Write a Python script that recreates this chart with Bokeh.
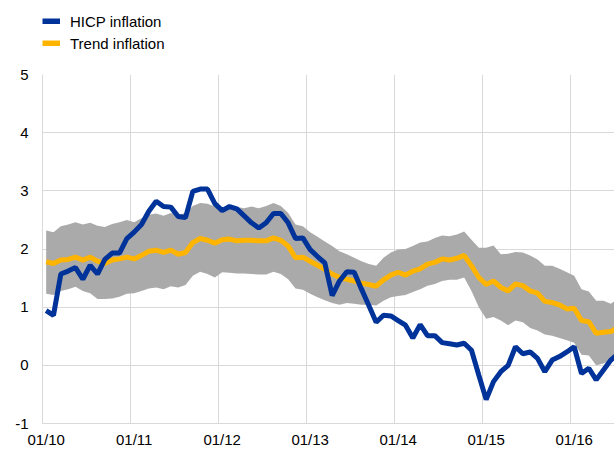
from bokeh.plotting import figure
from bokeh.models import Range1d, FixedTicker, Legend, LegendItem, ColumnDataSource
from bokeh.layouts import column
from bokeh.embed import file_html
from bokeh.resources import INLINE

# month index 0 = Jan 2010
months = list(range(79))

hicp = [0.94, 0.86, 1.57, 1.62, 1.68, 1.48, 1.72, 1.57, 1.82, 1.93, 1.93, 2.18,
        2.29, 2.42, 2.65, 2.82, 2.73, 2.72, 2.56, 2.54, 2.99, 3.03, 3.03, 2.78,
        2.66, 2.73, 2.69, 2.57, 2.45, 2.36, 2.45, 2.61, 2.61, 2.45, 2.18, 2.19,
        1.99, 1.87, 1.76, 1.20, 1.45, 1.61, 1.60, 1.31, 1.03, 0.74, 0.86, 0.85,
        0.77, 0.69, 0.47, 0.70, 0.51, 0.51, 0.39, 0.37, 0.35, 0.38, 0.26, -0.17,
        -0.59, -0.28, -0.11, 0.00, 0.32, 0.20, 0.23, 0.12, -0.11, 0.09, 0.15, 0.23,
        0.32, -0.14, -0.05, -0.25, -0.08, 0.09, 0.20]

trend = [1.78, 1.75, 1.81, 1.82, 1.86, 1.81, 1.86, 1.79, 1.75, 1.81, 1.83, 1.86,
         1.83, 1.89, 1.96, 1.98, 1.94, 1.98, 1.91, 1.94, 2.11, 2.18, 2.15, 2.10,
         2.16, 2.17, 2.14, 2.15, 2.15, 2.14, 2.14, 2.19, 2.15, 2.05, 1.85, 1.86,
         1.79, 1.72, 1.65, 1.57, 1.51, 1.48, 1.45, 1.41, 1.39, 1.36, 1.47, 1.55,
         1.60, 1.55, 1.62, 1.66, 1.74, 1.77, 1.83, 1.81, 1.84, 1.89, 1.71, 1.51,
         1.39, 1.45, 1.34, 1.28, 1.40, 1.37, 1.28, 1.24, 1.10, 1.08, 1.04, 0.97,
         0.98, 0.77, 0.75, 0.55, 0.57, 0.58, 0.66]

band_upper = [2.32, 2.29, 2.39, 2.42, 2.46, 2.42, 2.45, 2.40, 2.38, 2.43, 2.46, 2.50,
              2.46, 2.53, 2.59, 2.61, 2.57, 2.62, 2.59, 2.62, 2.74, 2.79, 2.78, 2.73,
              2.70, 2.73, 2.72, 2.70, 2.73, 2.70, 2.74, 2.79, 2.74, 2.62, 2.42, 2.39,
              2.29, 2.21, 2.13, 2.05, 1.96, 1.91, 1.85, 1.79, 1.74, 1.71, 1.85, 1.94,
              1.99, 2.00, 2.05, 2.11, 2.13, 2.19, 2.23, 2.22, 2.25, 2.30, 2.16, 2.02,
              2.02, 2.06, 1.91, 1.92, 1.95, 1.94, 1.89, 1.82, 1.71, 1.71, 1.66, 1.60,
              1.54, 1.31, 1.27, 1.11, 1.11, 1.06, 1.15]

band_lower = [1.23, 1.21, 1.28, 1.31, 1.35, 1.28, 1.24, 1.14, 1.14, 1.15, 1.18, 1.23,
              1.24, 1.28, 1.32, 1.34, 1.31, 1.36, 1.34, 1.38, 1.54, 1.61, 1.57, 1.51,
              1.60, 1.59, 1.58, 1.58, 1.57, 1.56, 1.56, 1.61, 1.57, 1.48, 1.32, 1.30,
              1.23, 1.17, 1.12, 1.07, 1.04, 1.07, 1.06, 1.04, 1.04, 1.03, 1.11, 1.17,
              1.19, 1.21, 1.26, 1.31, 1.37, 1.40, 1.45, 1.47, 1.47, 1.51, 1.28, 1.00,
              0.80, 0.83, 0.77, 0.69, 0.77, 0.74, 0.64, 0.60, 0.53, 0.51, 0.47, 0.43,
              0.39, 0.18, 0.17, 0.00, 0.03, 0.09, 0.12]

x_tick_pos = [0, 12, 24, 36, 48, 60, 72]
x_tick_labels = ["01/10", "01/11", "01/12", "01/13", "01/14", "01/15", "01/16"]
y_ticks = [-1, 0, 1, 2, 3, 4, 5]
series_names = ["HICP inflation", "Trend inflation"]
series_colors = ["#003399", "#ffb400"]
series_values = [hicp, trend]

FONT = "Liberation Sans"
GRID = "#d9d9d9"
BAND = "#aaaaaa"

# ---- legend strip (above the chart) ----
leg_fig = figure(width=614, height=53, output_backend="svg", toolbar_location=None,
                 x_range=Range1d(0, 1), y_range=Range1d(0, 1),
                 min_border_left=0, min_border_right=0, min_border_top=0,
                 min_border_bottom=0)
leg_fig.axis.visible = False
leg_fig.grid.visible = False
leg_fig.outline_line_color = None
leg_items = []
for name, col, vals in zip(series_names, series_colors, series_values):
    # single-point proxy (draws nothing itself), only used for the legend swatch
    src = ColumnDataSource(data=dict(x=[months[0]], y=[vals[0]]))
    r = leg_fig.line(x="x", y="y", source=src, line_color=col, line_width=6)
    leg_items.append(LegendItem(label=name, renderers=[r]))
legend = Legend(items=leg_items, location=(0, 0), orientation="vertical",
                label_text_font=FONT, label_text_font_size="15px",
                label_text_color="black", glyph_width=18, glyph_height=6,
                label_height=20, spacing=2, padding=0, margin=0,
                label_standoff=10, border_line_color=None,
                background_fill_alpha=0)
leg_fig.add_layout(legend, "center")

# ---- main chart ----
p = figure(width=614, height=397, output_backend="svg", toolbar_location=None,
           x_range=Range1d(-0.5, 77.5), y_range=Range1d(-1, 5),
           min_border_left=42, min_border_right=0, min_border_top=21,
           min_border_bottom=24)
p.outline_line_color = None
p.background_fill_color = "white"

p.varea(x=months, y1=band_lower, y2=band_upper, fill_color=BAND)
p.line(months, trend, line_color=series_colors[1], line_width=5)
p.line(months, hicp, line_color=series_colors[0], line_width=5)

p.xaxis.ticker = FixedTicker(ticks=x_tick_pos)
p.xaxis.major_label_overrides = {t: l for t, l in zip(x_tick_pos, x_tick_labels)}
p.yaxis.ticker = FixedTicker(ticks=y_ticks)
p.yaxis.major_label_overrides = {t: str(t) for t in y_ticks}
for ax in (p.xaxis, p.yaxis):
    ax.major_tick_line_color = None
    ax.minor_tick_line_color = None
    ax.major_tick_out = 0
    ax.major_tick_in = 0
    ax.minor_tick_out = 0
    ax.axis_line_color = GRID
    ax.major_label_text_font = FONT
    ax.major_label_text_font_size = "15px"
    ax.major_label_text_color = "black"
p.xaxis.major_label_standoff = 7
p.yaxis.major_label_standoff = 14

p.xgrid.ticker = FixedTicker(ticks=[t - 0.5 for t in x_tick_pos])
p.ygrid.ticker = FixedTicker(ticks=y_ticks)
p.xgrid.grid_line_color = GRID
p.ygrid.grid_line_color = GRID

layout = column(leg_fig, p, spacing=0)
open("out.html", "w").write(file_html(layout, INLINE))
